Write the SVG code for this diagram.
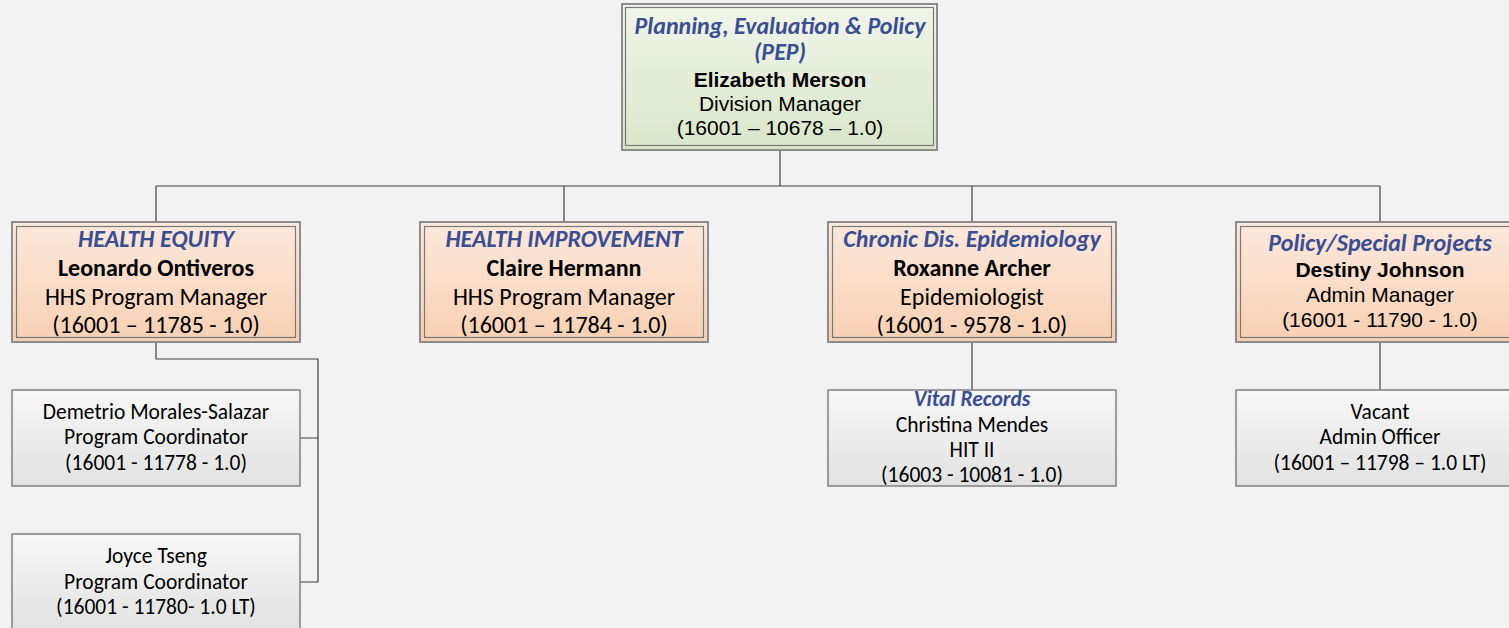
<svg xmlns="http://www.w3.org/2000/svg" width="1509" height="628" viewBox="0 0 1509 628">
<defs>
<linearGradient id="gTop" x1="0" y1="0" x2="0" y2="1"><stop offset="0" stop-color="#f1f5ea"/><stop offset="1" stop-color="#d9e6ca"/></linearGradient>
<linearGradient id="gMid" x1="0" y1="0" x2="0" y2="1"><stop offset="0" stop-color="#fde9dd"/><stop offset="1" stop-color="#f8d0b3"/></linearGradient>
<linearGradient id="gLow" x1="0" y1="0" x2="0" y2="1"><stop offset="0" stop-color="#f7f7f7"/><stop offset="1" stop-color="#e2e2e2"/></linearGradient>
<style>
.outer{stroke:#8c8c8c;stroke-width:2}
.inner{fill:none;stroke:#7a7a7a;stroke-width:1.2}
.low{fill:url(#gLow);stroke:#808080;stroke-width:1.5}
.conn{fill:none;stroke:#404040;stroke-width:1.2}
text{text-anchor:middle;fill:#000}
.cal{font-family:Carlito,Lato,"Liberation Sans",sans-serif}
.ari{font-family:"Liberation Sans",Arial,sans-serif}
.ttl{font-style:italic;font-weight:bold;fill:#3b4e92}
.b{font-weight:bold}
.m{font-size:24px}
.a{font-size:21px}
.s{font-size:21.5px}
</style>
</defs>
<rect width="1509" height="628" fill="#f2f2f2"/>
<g id="connectors">
<path class="conn" d="M780 150V186M156 186H1380M156 186V222M564 186V222M972 186V222M1380 186V222"/>
<path class="conn" d="M156 342V359H318V582H300M318 438H300"/>
<path class="conn" d="M972 342V390M1380 342V390"/>
</g>
<g id="pep">
<rect class="outer" x="622" y="4" width="315" height="146" fill="url(#gTop)"/>
<rect class="inner" x="625.5" y="7.5" width="308" height="138"/>
<text class="cal ttl m" x="780" y="34">Planning, Evaluation &amp; Policy</text>
<text class="cal ttl m" x="780" y="60">(PEP)</text>
<text class="ari b a" x="780" y="87">Elizabeth Merson</text>
<text class="ari a" x="780" y="111">Division Manager</text>
<text class="ari a" x="780" y="135">(16001 – 10678 – 1.0)</text>
</g>
<g id="health-equity">
<rect class="outer" x="12" y="222" width="288" height="120" fill="url(#gMid)"/>
<rect class="inner" x="16.5" y="226.5" width="279" height="111"/>
<text class="cal ttl m" x="156" y="247">HEALTH EQUITY</text>
<text class="cal b m" x="156" y="276">Leonardo Ontiveros</text>
<text class="cal m" x="156" y="305">HHS Program Manager</text>
<text class="cal m" x="156" y="333">(16001 – 11785 - 1.0)</text>
</g>
<g id="health-improvement">
<rect class="outer" x="420" y="222" width="288" height="120" fill="url(#gMid)"/>
<rect class="inner" x="424.5" y="226.5" width="279" height="111"/>
<text class="cal ttl m" x="564" y="247">HEALTH IMPROVEMENT</text>
<text class="cal b m" x="564" y="276">Claire Hermann</text>
<text class="cal m" x="564" y="305">HHS Program Manager</text>
<text class="cal m" x="564" y="333">(16001 – 11784 - 1.0)</text>
</g>
<g id="chronic">
<rect class="outer" x="828" y="222" width="288" height="120" fill="url(#gMid)"/>
<rect class="inner" x="832.5" y="226.5" width="279" height="111"/>
<text class="cal ttl m" x="972" y="247">Chronic Dis. Epidemiology</text>
<text class="cal b m" x="972" y="276">Roxanne Archer</text>
<text class="cal m" x="972" y="305">Epidemiologist</text>
<text class="cal m" x="972" y="333">(16001 - 9578 - 1.0)</text>
</g>
<g id="policy">
<rect class="outer" x="1236" y="222" width="288" height="120" fill="url(#gMid)"/>
<rect class="inner" x="1240.5" y="226.5" width="279" height="111"/>
<text class="cal ttl m" x="1380" y="251">Policy/Special Projects</text>
<text class="ari b a" x="1380" y="277">Destiny Johnson</text>
<text class="ari a" x="1380" y="302">Admin Manager</text>
<text class="ari a" x="1380" y="327">(16001 - 11790 - 1.0)</text>
</g>
<g id="demetrio">
<rect class="low" x="12" y="390" width="288" height="96"/>
<text class="cal s" x="156" y="419">Demetrio Morales-Salazar</text>
<text class="cal s" x="156" y="444">Program Coordinator</text>
<text class="cal s" x="156" y="470">(16001 - 11778 - 1.0)</text>
</g>
<g id="joyce">
<rect class="low" x="12" y="534" width="288" height="96"/>
<text class="cal s" x="156" y="563">Joyce Tseng</text>
<text class="cal s" x="156" y="589">Program Coordinator</text>
<text class="cal s" x="156" y="614">(16001 - 11780- 1.0 LT)</text>
</g>
<g id="vital">
<rect class="low" x="828" y="390" width="288" height="96"/>
<text class="cal ttl s" x="972" y="406">Vital Records</text>
<text class="cal s" x="972" y="432">Christina Mendes</text>
<text class="cal s" x="972" y="457">HIT II</text>
<text class="cal s" x="972" y="482">(16003 - 10081 - 1.0)</text>
</g>
<g id="vacant">
<rect class="low" x="1236" y="390" width="288" height="96"/>
<text class="cal s" x="1380" y="419">Vacant</text>
<text class="cal s" x="1380" y="444">Admin Officer</text>
<text class="cal s" x="1380" y="470">(16001 – 11798 – 1.0 LT)</text>
</g>
</svg>
